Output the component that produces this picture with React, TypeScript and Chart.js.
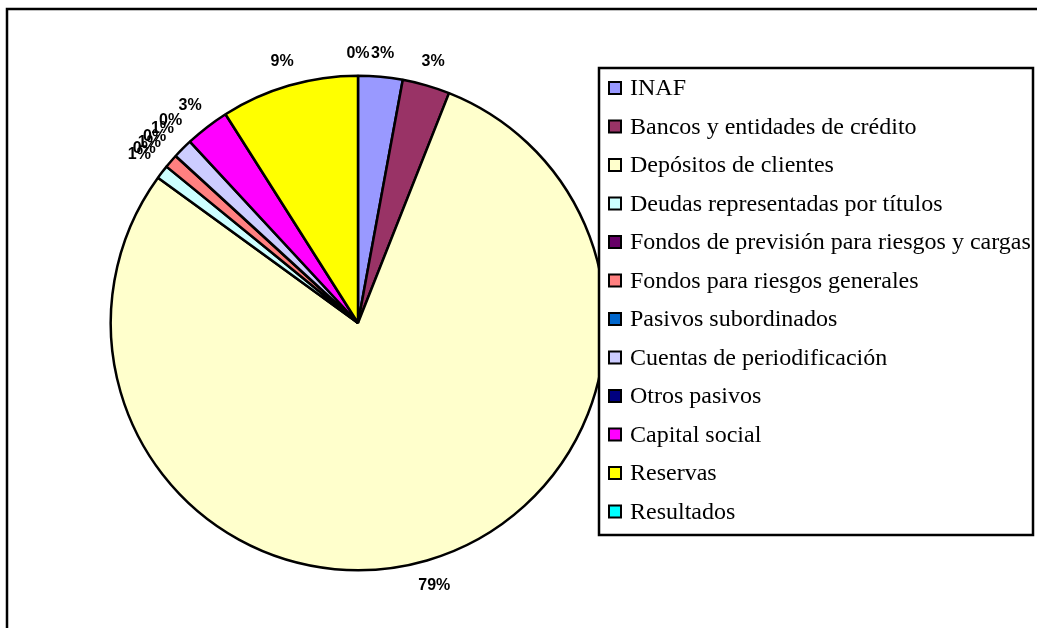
import React, { useEffect, useRef } from "react";
import { Chart, registerables } from "chart.js";

Chart.register(...registerables);

const categories = [
  "INAF",
  "Bancos y entidades de crédito",
  "Depósitos de clientes",
  "Deudas representadas por títulos",
  "Fondos de previsión para riesgos y cargas",
  "Fondos para riesgos generales",
  "Pasivos subordinados",
  "Cuentas de periodificación",
  "Otros pasivos",
  "Capital social",
  "Reservas",
  "Resultados",
];

const values = [2.9, 3.1, 79.0, 0.9, 0, 0.9, 0, 1.3, 0, 2.9, 9.0, 0];

const colors = [
  "#9999FF",
  "#993366",
  "#FFFFCC",
  "#CCFFFF",
  "#660066",
  "#FF8080",
  "#0066CC",
  "#CCCCFF",
  "#000080",
  "#FF00FF",
  "#FFFF00",
  "#00FFFF",
];

const framePlugin = {
  id: "frame",
  beforeDraw(chart: any) {
    const ctx = chart.ctx;
    ctx.save();
    ctx.fillStyle = "#ffffff";
    ctx.fillRect(0, 0, chart.width, chart.height);
    ctx.strokeStyle = "#000";
    ctx.lineWidth = 2.5;
    ctx.beginPath();
    ctx.moveTo(7, chart.height + 5);
    ctx.lineTo(7, 9);
    ctx.lineTo(chart.width + 5, 9);
    ctx.stroke();
    ctx.restore();
  },
};

const labelPlugin = {
  id: "pctLabels",
  afterDatasetsDraw(chart: any) {
    const ctx = chart.ctx;
    const meta = chart.getDatasetMeta(0);
    const data = chart.data.datasets[0].data as number[];
    const total = data.reduce((a, b) => a + b, 0);
    ctx.save();
    ctx.font = "bold 16px 'Liberation Sans', Arial, sans-serif";
    ctx.fillStyle = "#000";
    ctx.textAlign = "center";
    ctx.textBaseline = "middle";
    meta.data.forEach((arc: any, i: number) => {
      const { x, y, startAngle, endAngle, outerRadius } = arc.getProps(
        ["x", "y", "startAngle", "endAngle", "outerRadius"],
        true
      );
      const mid = (startAngle + endAngle) / 2;
      const txt = Math.round((data[i] / total) * 100) + "%";
      const w = ctx.measureText(txt).width;
      const h = 12;
      const c = Math.cos(mid);
      const s = Math.sin(mid);
      const dist = outerRadius + 16 + (w / 2) * Math.abs(c) + (h / 2) * Math.abs(s);
      ctx.fillText(txt, x + c * dist, y + s * dist);
    });
    ctx.restore();
  },
};

const legendPlugin = {
  id: "boxLegend",
  afterDraw(chart: any) {
    const ctx = chart.ctx;
    const bx = 599;
    const by = 68;
    const bw = 434;
    const bh = 467;
    ctx.save();
    ctx.fillStyle = "#fff";
    ctx.fillRect(bx, by, bw, bh);
    ctx.strokeStyle = "#000";
    ctx.lineWidth = 2.5;
    ctx.strokeRect(bx, by, bw, bh);
    const labels = chart.data.labels as string[];
    const bg = chart.data.datasets[0].backgroundColor as string[];
    ctx.font = "24px 'Liberation Serif', 'Times New Roman', serif";
    ctx.textBaseline = "middle";
    ctx.textAlign = "left";
    labels.forEach((lab, i) => {
      const cy = 88 + i * 38.5;
      ctx.fillStyle = bg[i];
      ctx.fillRect(609, cy - 6, 12, 12);
      ctx.lineWidth = 2;
      ctx.strokeStyle = "#000";
      ctx.strokeRect(609, cy - 6, 12, 12);
      ctx.fillStyle = "#000";
      ctx.fillText(lab, 630, cy + 1);
    });
    ctx.restore();
  },
};

export default function App() {
  const ref = useRef<HTMLCanvasElement | null>(null);
  useEffect(() => {
    if (!ref.current) return;
    const chart = new Chart(ref.current, {
      type: "pie",
      data: {
        labels: categories,
        datasets: [
          {
            data: values,
            backgroundColor: colors,
            borderColor: "#000",
            borderWidth: 2.5,
          },
        ],
      },
      options: {
        animation: false,
        responsive: false,
        maintainAspectRatio: false,
        layout: {
          padding: { left: 109.5, right: 430.5, top: 74.5, bottom: 56.5 },
        },
        plugins: {
          legend: { display: false },
          tooltip: { enabled: false },
        },
      },
      plugins: [framePlugin, labelPlugin, legendPlugin],
    });
    return () => chart.destroy();
  }, []);
  return (
    <div style={{ position: "fixed", left: 0, top: 0, width: 1037, height: 628, background: "#fff" }}>
      <canvas ref={ref} width={1037} height={628} style={{ display: "block" }} />
    </div>
  );
}
